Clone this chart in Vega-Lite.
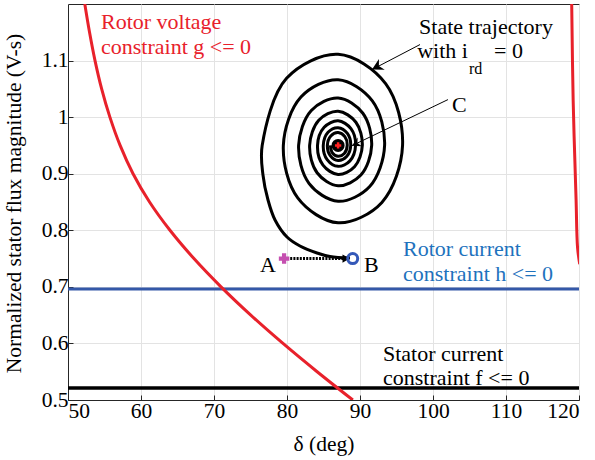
{
  "$schema": "https://vega.github.io/schema/vega-lite/v6.json",
  "width": 511,
  "height": 396,
  "autosize": {"type": "none"},
  "padding": {"left": 68, "top": 4, "right": 16, "bottom": 60},
  "background": "white",
  "config": {
    "view": {"stroke": "#262626", "strokeWidth": 1},
    "axis": {
      "labelFont": "Liberation Serif", "labelFontSize": 21.5, "labelColor": "black",
      "titleFont": "Liberation Serif", "titleFontSize": 21.5, "titleColor": "black", "titleFontWeight": "normal",
      "domainColor": "#262626", "tickColor": "#262626", "gridColor": "#e3e3e3", "gridWidth": 1
    },
    "text": {"font": "Liberation Serif", "fontSize": 22}
  },
  "datasets": {
    "gL": [
      {"i": 0, "x": 52.3, "y": 1.2}, {"i": 1, "x": 52.95, "y": 1.15}, {"i": 2, "x": 53.7, "y": 1.1}, {"i": 3, "x": 54.61, "y": 1.05},
      {"i": 4, "x": 55.74, "y": 1.0}, {"i": 5, "x": 57.14, "y": 0.95}, {"i": 6, "x": 58.91, "y": 0.9}, {"i": 7, "x": 61.17, "y": 0.85},
      {"i": 8, "x": 63.97, "y": 0.8}, {"i": 9, "x": 67.25, "y": 0.75}, {"i": 10, "x": 70.96, "y": 0.7}, {"i": 11, "x": 75.04, "y": 0.65},
      {"i": 12, "x": 79.45, "y": 0.6}, {"i": 13, "x": 84.13, "y": 0.55}, {"i": 14, "x": 89.02, "y": 0.5}
    ],
    "gR": [
      {"i": 0, "x": 119.0, "y": 1.2}, {"i": 1, "x": 119.2, "y": 1.03}, {"i": 2, "x": 119.6, "y": 0.854},
      {"i": 3, "x": 119.8, "y": 0.77}, {"i": 4, "x": 120.1, "y": 0.74}
    ],
    "spiral": [
      {"i": 0, "x": 88.63, "y": 0.751}, {"i": 1, "x": 85.89, "y": 0.7537}, {"i": 2, "x": 84.11, "y": 0.7599},
      {"i": 3, "x": 81.78, "y": 0.7722}, {"i": 4, "x": 80.0, "y": 0.7881}, {"i": 5, "x": 78.36, "y": 0.8182},
      {"i": 6, "x": 77.4, "y": 0.8535}, {"i": 7, "x": 76.71, "y": 0.8977},
      {"i": 8, "x": 76.6, "y": 0.95}, {"i": 9, "x": 79.94, "y": 1.0686}, {"i": 10, "x": 87, "y": 1.111},
      {"i": 11, "x": 93.51, "y": 1.0593}, {"i": 12, "x": 95.83, "y": 0.95}, {"i": 13, "x": 93.0, "y": 0.8493},
      {"i": 14, "x": 87, "y": 0.8132}, {"i": 15, "x": 81.47, "y": 0.8572}, {"i": 16, "x": 79.5, "y": 0.95},
      {"i": 17, "x": 81.91, "y": 1.0355}, {"i": 18, "x": 87, "y": 1.0661}, {"i": 19, "x": 91.69, "y": 1.0288},
      {"i": 20, "x": 93.37, "y": 0.95}, {"i": 21, "x": 91.33, "y": 0.8773}, {"i": 22, "x": 87, "y": 0.8513},
      {"i": 23, "x": 83.01, "y": 0.883}, {"i": 24, "x": 81.59, "y": 0.95}, {"i": 25, "x": 83.33, "y": 1.0117},
      {"i": 26, "x": 87, "y": 1.0338}, {"i": 27, "x": 90.39, "y": 1.0069}, {"i": 28, "x": 91.6, "y": 0.95},
      {"i": 29, "x": 90.12, "y": 0.8976}, {"i": 30, "x": 87, "y": 0.8788}, {"i": 31, "x": 84.12, "y": 0.9017},
      {"i": 32, "x": 83.1, "y": 0.95}, {"i": 33, "x": 84.35, "y": 0.9945}, {"i": 34, "x": 87, "y": 1.0104},
      {"i": 35, "x": 89.44, "y": 0.991}, {"i": 36, "x": 90.32, "y": 0.95}, {"i": 37, "x": 89.25, "y": 0.9122},
      {"i": 38, "x": 87, "y": 0.8987}, {"i": 39, "x": 84.93, "y": 0.9152}, {"i": 40, "x": 84.18, "y": 0.95},
      {"i": 41, "x": 85.09, "y": 0.9821}, {"i": 42, "x": 87, "y": 0.9936}, {"i": 43, "x": 88.76, "y": 0.9796},
      {"i": 44, "x": 89.39, "y": 0.95}, {"i": 45, "x": 88.62, "y": 0.9227}, {"i": 46, "x": 87, "y": 0.913},
      {"i": 47, "x": 85.5, "y": 0.9249}, {"i": 48, "x": 84.97, "y": 0.95}, {"i": 49, "x": 85.62, "y": 0.9732},
      {"i": 50, "x": 87, "y": 0.9814}, {"i": 51, "x": 88.27, "y": 0.9713}, {"i": 52, "x": 88.73, "y": 0.95},
      {"i": 53, "x": 88.17, "y": 0.9303}, {"i": 54, "x": 87, "y": 0.9233}, {"i": 55, "x": 85.92, "y": 0.9319},
      {"i": 56, "x": 85.53, "y": 0.95}, {"i": 57, "x": 86.0, "y": 0.9667}, {"i": 58, "x": 87, "y": 0.9727},
      {"i": 59, "x": 87.92, "y": 0.9654}, {"i": 60, "x": 88.25, "y": 0.95}, {"i": 61, "x": 87.85, "y": 0.9358},
      {"i": 62, "x": 87, "y": 0.9307}, {"i": 63, "x": 86.22, "y": 0.9369}, {"i": 64, "x": 85.94, "y": 0.95}
    ]
  },
  "layer": [
    {
      "data": {"values": [{"y": 0.696}]},
      "mark": {"type": "rule", "color": "#3458a8", "strokeWidth": 3},
      "encoding": {
        "y": {"field": "y", "type": "quantitative",
          "scale": {"domain": [0.5, 1.2], "nice": false, "zero": false},
          "axis": {"values": [0.5, 0.6, 0.7, 0.8, 0.9, 1.0, 1.1], "format": "~g", "tickSize": -5, "labelPadding": 5,
            "title": "Normalized stator flux magnitude (V-s)", "titleX": -43, "titleY": 199, "domain": true}
        }
      }
    },
    {
      "data": {"values": [{"y": 0.521}]},
      "mark": {"type": "rule", "color": "black", "strokeWidth": 3.5},
      "encoding": {"y": {"field": "y", "type": "quantitative"}}
    },
    {
      "data": {"name": "gL"},
      "mark": {"type": "line", "color": "#e8212b", "strokeWidth": 3, "interpolate": "catmull-rom", "clip": true},
      "encoding": {
        "x": {"field": "x", "type": "quantitative",
          "scale": {"domain": [50, 120], "nice": false, "zero": false},
          "axis": {"values": [50, 60, 70, 80, 90, 100, 110, 120], "tickSize": -5, "labelPadding": 5,
            "title": "δ (deg)", "titleY": 33, "titleBaseline": "top"}
        },
        "y": {"field": "y", "type": "quantitative"},
        "order": {"field": "i"}
      }
    },
    {
      "data": {"name": "gR"},
      "mark": {"type": "line", "color": "#e8212b", "strokeWidth": 3, "interpolate": "catmull-rom", "clip": true},
      "encoding": {
        "x": {"field": "x", "type": "quantitative"},
        "y": {"field": "y", "type": "quantitative"},
        "order": {"field": "i"}
      }
    },
    {
      "data": {"name": "spiral"},
      "mark": {"type": "line", "color": "black", "strokeWidth": 3, "interpolate": "catmull-rom"},
      "encoding": {
        "x": {"field": "x", "type": "quantitative"},
        "y": {"field": "y", "type": "quantitative"},
        "order": {"field": "i"}
      }
    },
    {
      "data": {"values": [{"x": 80.0, "y": 0.75}, {"x": 88.0, "y": 0.75}]},
      "mark": {"type": "line", "color": "black", "strokeWidth": 3, "strokeDash": [2, 1.2]},
      "encoding": {"x": {"field": "x", "type": "quantitative"}, "y": {"field": "y", "type": "quantitative"}}
    },
    {
      "data": {"values": [{"x": 88.1, "y": 0.75}]},
      "mark": {"type": "point", "shape": "triangle-right", "filled": true, "color": "black", "size": 70, "opacity": 1},
      "encoding": {"x": {"field": "x", "type": "quantitative"}, "y": {"field": "y", "type": "quantitative"}}
    },
    {
      "data": {"values": [{"x": 87.0, "y": 0.95}]},
      "mark": {"type": "point", "shape": "circle", "filled": true, "color": "black", "size": 170, "opacity": 1},
      "encoding": {"x": {"field": "x", "type": "quantitative"}, "y": {"field": "y", "type": "quantitative"}}
    },
    {
      "data": {"values": [{"x": 87.0, "y": 0.95}]},
      "mark": {"type": "point", "shape": "cross", "filled": true, "color": "#ff2020", "size": 40, "opacity": 1},
      "encoding": {"x": {"field": "x", "type": "quantitative"}, "y": {"field": "y", "type": "quantitative"}}
    },
    {
      "data": {"values": [{"x": 79.6, "y": 0.75}]},
      "mark": {"type": "point", "shape": "cross", "filled": true, "color": "#c54fb0", "size": 110, "opacity": 1},
      "encoding": {"x": {"field": "x", "type": "quantitative"}, "y": {"field": "y", "type": "quantitative"}}
    },
    {
      "data": {"values": [{"x": 89.0, "y": 0.75}]},
      "mark": {"type": "point", "shape": "circle", "filled": false, "color": "#3458b8", "strokeWidth": 3, "size": 100, "opacity": 1},
      "encoding": {"x": {"field": "x", "type": "quantitative"}, "y": {"field": "y", "type": "quantitative"}}
    },
    {
      "data": {"values": [{"x": 98.22, "y": 1.1283, "x2": 91.64, "y2": 1.084}, {"x": 102.05, "y": 1.031, "x2": 88.9, "y2": 0.9496}]},
      "mark": {"type": "rule", "color": "black", "strokeWidth": 1},
      "encoding": {
        "x": {"field": "x", "type": "quantitative"}, "y": {"field": "y", "type": "quantitative"},
        "x2": {"field": "x2"}, "y2": {"field": "y2"}
      }
    },
    {
      "data": {"values": [{"x": 91.64, "y": 1.084}]},
      "mark": {"type": "point", "shape": "M0,0L-1,-0.55L-0.7,0L-1,0.55Z", "filled": true, "color": "black", "size": 500, "angle": 152, "opacity": 1},
      "encoding": {"x": {"field": "x", "type": "quantitative"}, "y": {"field": "y", "type": "quantitative"}}
    },
    {
      "data": {"values": [{"x": 88.9, "y": 0.9496}]},
      "mark": {"type": "point", "shape": "M0,0L-1,-0.55L-0.7,0L-1,0.55Z", "filled": true, "color": "black", "size": 300, "angle": 154, "opacity": 1},
      "encoding": {"x": {"field": "x", "type": "quantitative"}, "y": {"field": "y", "type": "quantitative"}}
    },
    {
      "data": {"values": [{"x": 54.52, "y": 1.1566, "t": "Rotor voltage"}, {"x": 54.52, "y": 1.1124, "t": "constraint g <= 0"}]},
      "mark": {"type": "text", "align": "left", "baseline": "alphabetic", "color": "#e8212b"},
      "encoding": {"x": {"field": "x", "type": "quantitative"}, "y": {"field": "y", "type": "quantitative"}, "text": {"field": "t"}}
    },
    {
      "data": {"values": [{"x": 95.89, "y": 0.7549, "t": "Rotor current"}, {"x": 95.89, "y": 0.7106, "t": "constraint h <= 0"}]},
      "mark": {"type": "text", "align": "left", "baseline": "alphabetic", "color": "#1e72bd"},
      "encoding": {"x": {"field": "x", "type": "quantitative"}, "y": {"field": "y", "type": "quantitative"}, "text": {"field": "t"}}
    },
    {
      "data": {"values": [{"x": 93.15, "y": 0.569, "t": "Stator current"}, {"x": 93.15, "y": 0.5265, "t": "constraint f <= 0"}]},
      "mark": {"type": "text", "align": "left", "baseline": "alphabetic", "color": "black"},
      "encoding": {"x": {"field": "x", "type": "quantitative"}, "y": {"field": "y", "type": "quantitative"}, "text": {"field": "t"}}
    },
    {
      "data": {"values": [{"x": 107.26, "y": 1.147, "t": "State trajectory"}]},
      "mark": {"type": "text", "align": "center", "baseline": "alphabetic", "color": "black"},
      "encoding": {"x": {"field": "x", "type": "quantitative"}, "y": {"field": "y", "type": "quantitative"}, "text": {"field": "t"}}
    },
    {
      "data": {"values": [{"x": 104.79, "y": 1.1046, "t": "with i"}]},
      "mark": {"type": "text", "align": "right", "baseline": "alphabetic", "color": "black"},
      "encoding": {"x": {"field": "x", "type": "quantitative"}, "y": {"field": "y", "type": "quantitative"}, "text": {"field": "t"}}
    },
    {
      "data": {"values": [{"x": 104.93, "y": 1.0763, "t": "rd"}]},
      "mark": {"type": "text", "align": "left", "baseline": "alphabetic", "color": "black", "fontSize": 16},
      "encoding": {"x": {"field": "x", "type": "quantitative"}, "y": {"field": "y", "type": "quantitative"}, "text": {"field": "t"}}
    },
    {
      "data": {"values": [{"x": 108.36, "y": 1.1046, "t": "= 0"}, {"x": 102.6, "y": 1.0097, "t": "C"}, {"x": 90.55, "y": 0.7265, "t": "B"}]},
      "mark": {"type": "text", "align": "left", "baseline": "alphabetic", "color": "black"},
      "encoding": {"x": {"field": "x", "type": "quantitative"}, "y": {"field": "y", "type": "quantitative"}, "text": {"field": "t"}}
    },
    {
      "data": {"values": [{"x": 78.49, "y": 0.7265, "t": "A"}]},
      "mark": {"type": "text", "align": "right", "baseline": "alphabetic", "color": "black"},
      "encoding": {"x": {"field": "x", "type": "quantitative"}, "y": {"field": "y", "type": "quantitative"}, "text": {"field": "t"}}
    }
  ]
}
